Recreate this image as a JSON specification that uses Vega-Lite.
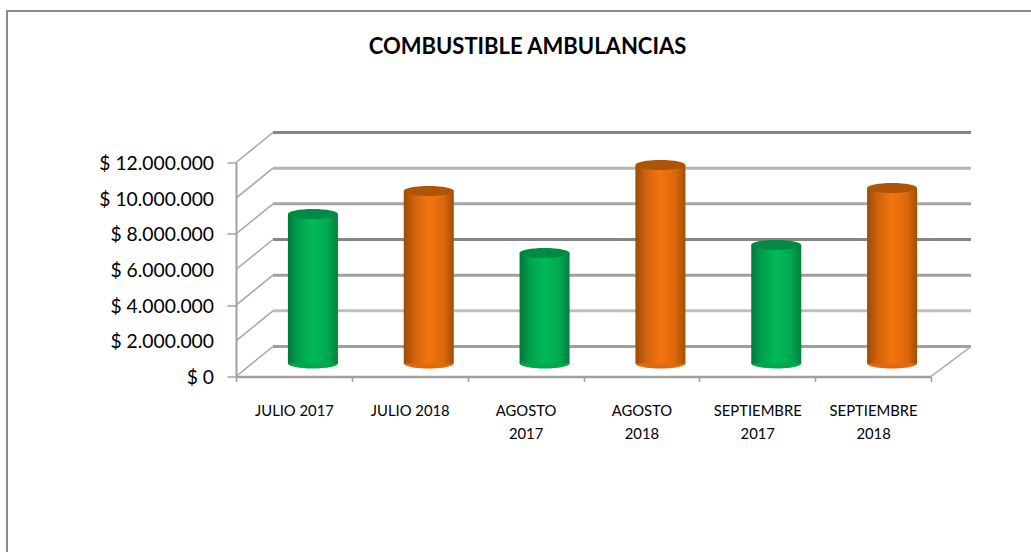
{
"$schema":"https://vega.github.io/schema/vega-lite/v6.json",
"width":695,"height":214,
"autosize":{"type":"none"},
"padding":{"left":236,"top":162.5,"right":100,"bottom":175.5},
"background":"white",
"title":{"text":"COMBUSTIBLE AMBULANCIAS","font":"Lato","fontSize":22,"fontWeight":"bold","color":"#000000","anchor":"middle","dx":-56,"offset":-71,"baseline":"bottom"},
"config":{"view":{"stroke":null}},
"datasets":{
"bars":[
{"periodo":"JULIO 2017","anio":"2017","valor":8380000},
{"periodo":"JULIO 2018","anio":"2018","valor":9670000},
{"periodo":"AGOSTO 2017","anio":"2017","valor":6200000},
{"periodo":"AGOSTO 2018","anio":"2018","valor":11130000},
{"periodo":"SEPTIEMBRE 2017","anio":"2017","valor":6650000},
{"periodo":"SEPTIEMBRE 2018","anio":"2018","valor":9840000}],
"niveles":[{"v":0,"rotulo":"$ 0"},{"v":2000000,"rotulo":"$ 2.000.000"},{"v":4000000,"rotulo":"$ 4.000.000"},{"v":6000000,"rotulo":"$ 6.000.000"},{"v":8000000,"rotulo":"$ 8.000.000"},{"v":10000000,"rotulo":"$ 10.000.000"},{"v":12000000,"rotulo":"$ 12.000.000"}]
},
"data":{"name":"bars"},
"layer":[
{"data":{"values":[{"marco":1}]},"mark":{"type":"rect","fill":null,"stroke":"#8c8c8c","strokeWidth":2},
 "encoding":{"x":{"value":-229},"x2":{"value":900},"y":{"value":-151.5},"y2":{"value":500}}},
{"data":{"name":"niveles"},"mark":{"type":"rule","strokeWidth":3,"yOffset":-30,"y2Offset":-30},
 "encoding":{"x":{"value":37},"x2":{"value":735},
  "y":{"field":"v","type":"quantitative","scale":{"domain":[0,12000000]},"axis":{"values":[0,2000000,4000000,6000000,8000000,10000000,12000000],"title":null,"grid":false,"labels":false,"tickSize":9,"tickColor":"#a0a0a0","tickWidth":1.5,"domainColor":"#a0a0a0","domainWidth":2}},
  "color":{"field":"v","type":"ordinal","legend":null,"scale":{"domain":[0,2000000,4000000,6000000,8000000,10000000,12000000],"range":["#a0a0a0","#bfbfbf","#a0a0a0","#868686","#a6a6a6","#b4b4b4","#868686"]}}}},
{"data":{"name":"niveles"},"mark":{"type":"text","font":"Lato","fontSize":19.3,"color":"#000000","align":"right","baseline":"middle","dx":-22,"dy":1.5},
 "encoding":{"x":{"value":0},"y":{"field":"v","type":"quantitative"},"text":{"field":"rotulo","type":"nominal"}}},
{"data":{"name":"niveles"},"mark":{"type":"rule","strokeWidth":1.5,"color":"#a6a6a6","y2Offset":-30},
 "encoding":{"x":{"value":0},"x2":{"value":37},"y":{"field":"v","type":"quantitative"},"y2":{"field":"v"}}},
{"data":{"name":"niveles"},"transform":[{"filter":"datum.v === 0"}],"mark":{"type":"rule","strokeWidth":1.5,"color":"#a6a6a6","y2Offset":-30},
 "encoding":{"x":{"value":695},"x2":{"value":735},"y":{"field":"v","type":"quantitative"},"y2":{"field":"v"}}},
{"mark":{"type":"point","filled":true,"opacity":1,"size":2500,"xOffset":19,"yOffset":-13,"shape":"M-1,0A1,0.2,0,1,1,1,0A1,0.2,0,1,1,-1,0Z"},
 "transform":[{"filter":"datum.anio === '2017'"}],
 "encoding":{"x":{"field":"periodo","type":"nominal"},"y":{"datum":0,"type":"quantitative"},"fill":{"value":"#00a84c"}}},
{"mark":{"type":"point","filled":true,"opacity":1,"size":2500,"xOffset":19,"yOffset":-13,"shape":"M-1,0A1,0.2,0,1,1,1,0A1,0.2,0,1,1,-1,0Z"},
 "transform":[{"filter":"datum.anio === '2018'"}],
 "encoding":{"x":{"field":"periodo","type":"nominal"},"y":{"datum":0,"type":"quantitative"},"fill":{"value":"#e06a0c"}}},
{"mark":{"type":"bar","size":50,"xOffset":19,"yOffset":-13,"y2Offset":-13,"color":{"gradient":"linear","x1":0,"x2":1,"y1":0,"y2":0,"stops":[{"offset":0,"color":"#00783a"},{"offset":0.2,"color":"#00a04c"},{"offset":0.5,"color":"#00ba58"},{"offset":0.8,"color":"#00a850"},{"offset":1,"color":"#007f3e"}]}},
 "transform":[{"filter":"datum.anio === '2017'"}],
 "encoding":{"x":{"field":"periodo","type":"nominal","scale":{"domain":["JULIO 2017","JULIO 2018","AGOSTO 2017","AGOSTO 2018","SEPTIEMBRE 2017","SEPTIEMBRE 2018"],"paddingInner":0,"paddingOuter":0},"axis":{"title":null,"labelAngle":0,"labelAlign":"center","labelExpr":"length(datum.label) > 10 ? split(datum.label, ' ') : datum.label","labelFont":"Lato","labelFontSize":14.8,"labelColor":"#000000","labelPadding":30,"labelLineHeight":23,"labelLimit":200,"labelOverlap":false,"tickBand":"extent","tickSize":5,"tickColor":"#a0a0a0","tickWidth":1.5,"domainColor":"#a0a0a0","domainWidth":2.5}},"y":{"field":"valor","type":"quantitative"}}},
{"mark":{"type":"bar","size":50,"xOffset":19,"yOffset":-13,"y2Offset":-13,"color":{"gradient":"linear","x1":0,"x2":1,"y1":0,"y2":0,"stops":[{"offset":0,"color":"#9c4a06"},{"offset":0.2,"color":"#d0620c"},{"offset":0.5,"color":"#f4750f"},{"offset":0.8,"color":"#dc680c"},{"offset":1,"color":"#a34e06"}]}},
 "transform":[{"filter":"datum.anio === '2018'"}],
 "encoding":{"x":{"field":"periodo","type":"nominal"},"y":{"field":"valor","type":"quantitative"}}},
{"mark":{"type":"point","filled":true,"opacity":1,"size":2500,"xOffset":19,"yOffset":-13,"shape":"M-1,0A1,0.2,0,1,1,1,0A1,0.2,0,1,1,-1,0Z","fill":"#008a43"},
 "transform":[{"filter":"datum.anio === '2017'"}],
 "encoding":{"x":{"field":"periodo","type":"nominal"},"y":{"field":"valor","type":"quantitative"}}},
{"mark":{"type":"point","filled":true,"opacity":1,"size":2500,"xOffset":19,"yOffset":-13,"shape":"M-1,0A1,0.2,0,1,1,1,0A1,0.2,0,1,1,-1,0Z","fill":"#ad5504"},
 "transform":[{"filter":"datum.anio === '2018'"}],
 "encoding":{"x":{"field":"periodo","type":"nominal"},"y":{"field":"valor","type":"quantitative"}}}
]
}
